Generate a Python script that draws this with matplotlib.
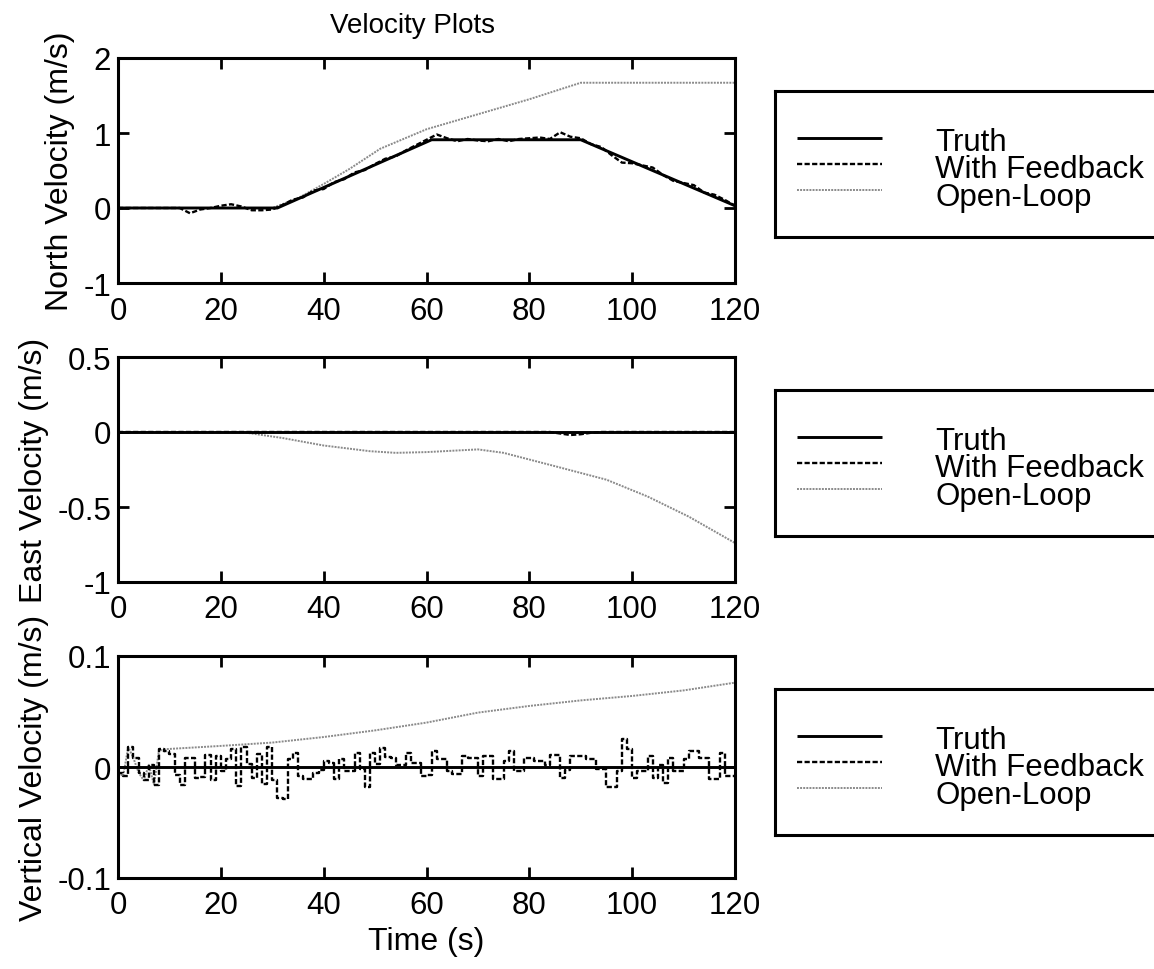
import numpy as np
import matplotlib
matplotlib.use("Agg")
import matplotlib.pyplot as plt
from matplotlib.lines import Line2D

plt.rcParams['font.family'] = ['Liberation Sans', 'DejaVu Sans']

# ---------------- data ----------------
# North: truth breakpoints
north_truth_t = [0, 31, 61, 90, 120]
north_truth_v = [0.0, 0.0, 0.91, 0.91, 0.03]
# North: open-loop breakpoints
north_open_t = [0, 30, 35, 40, 45, 51, 60, 70, 80, 90, 120]
north_open_v = [0.0, 0.0, 0.13, 0.32, 0.52, 0.79, 1.05, 1.25, 1.45, 1.67, 1.67]
# North: with-feedback deviation from truth, every 2 s (0..120)
fb_t2 = list(range(0, 121, 2))
north_fb_dev = [0, 0, 0, 0, 0, 0, 0, -0.07, -0.02, 0, 0.03, 0.05, 0.02, -0.03, -0.03, -0.02,
                0.01, 0.02, -0.01, 0.02, -0.02, 0.01, -0.01, 0.02, -0.01, 0.01, 0.02, -0.01, 0.01,
                0.02, 0.03, 0.07, 0.02, -0.02, 0.01, -0.01, -0.02, 0.01, -0.02, 0.01, 0.02, 0.03,
                0.01, 0.10, 0.04, 0.02, 0.0, 0.02, -0.03, -0.07, -0.02, 0.01, 0.04, 0.0, -0.02,
                0.01, 0.04, 0.0, 0.03, 0.02, 0.0]

# East
east_truth_t = [0, 120]
east_truth_v = [0.0, 0.0]
east_open_t = [0, 24, 32, 40, 49, 54, 60, 70, 75, 85, 95, 103, 111, 120]
east_open_v = [0.0, 0.0, -0.04, -0.09, -0.128, -0.139, -0.134, -0.116, -0.139, -0.228,
               -0.318, -0.43, -0.564, -0.74]
east_fb_v = [0] * 43 + [-0.01, -0.02, -0.015, -0.005] + [0] * 14

# Vertical
vert_truth_t = [0, 120]
vert_truth_v = [0.0, 0.0]
t1 = list(range(0, 121))
vert_fb_v = [-5, -8, 18, 8, -5, -12, 2, -16, 16, 14, 12, -7, -16, 8, 8, -10, -9, 11, -12, 10,
             -4, 7, 16, -17, 18, 3, -10, 12, -15, 18, -12, -28, -29, 7, 13, -8, -11, -11, -5, -3,
             5, 4, -11, 7, -4, -4, 13, -2, -18, 13, 3, 17, 9, 8, 2, 2, 13, 4, 4, -8,
             -7, 14, 7, 7, -4, -6, -6, 10, 8, 8, -8, 10, 10, -11, -11, 5, 14, -4, -4, 8,
             8, 5, 5, 2, 11, 11, -10, -3, 10, 10, 10, 7, 7, -2, -2, -18, -18, -4, 25, 16,
             -10, -4, -4, 10, -10, 2, -14, 8, -4, -4, 7, 14, 14, 8, 8, -11, -11, 13, -8, -8, -8]
vert_fb_v = [v / 1000.0 for v in vert_fb_v]
vert_open_t = [9, 20, 30, 40, 50, 60, 70, 80, 90, 100, 110, 120]
vert_open_v = [0.016, 0.019, 0.022, 0.027, 0.033, 0.040, 0.049, 0.055, 0.060, 0.064, 0.069, 0.076]

legend_labels = ["Truth", "With Feedback", "Open-Loop"]
xticks = [0, 20, 40, 60, 80, 100, 120]

# ---------------- figure ----------------
W, H = 1154, 970
fig = plt.figure(figsize=(W / 100, H / 100), dpi=100)

def fx(px):
    return px / W

def fy(py):
    return 1 - py / H

truth_kw = dict(color='black', lw=2.1, solid_capstyle='butt')
fb_kw = dict(color='black', lw=1.7, ls=(0, (2.2, 1.0)))
ol_kw = dict(color='#8a8a8a', lw=1.4, ls=(0, (1, 0.6)))

FS = 22.5
LFS = 23

def style_axes(ax, ylim, yticks, yticklabels):
    ax.set_xlim(0, 120)
    ax.set_ylim(*ylim)
    ax.set_xticks(xticks)
    ax.set_xticklabels([str(x) for x in xticks], fontsize=FS)
    ax.set_yticks(yticks)
    ax.set_yticklabels(yticklabels, fontsize=FS)
    ax.tick_params(direction='in', length=8, width=2, top=True, right=True)
    ax.tick_params(axis='y', pad=5)
    ax.tick_params(axis='x', pad=9)
    for s in ax.spines.values():
        s.set_linewidth(2.2)

axes_px = [(59, 284), (358, 583), (657, 879)]
axs = []
for top, bot in axes_px:
    ax = fig.add_axes([fx(118), fy(bot), fx(735) - fx(118), fy(top) - fy(bot)])
    axs.append(ax)

# North
ax = axs[0]
tt = np.array(fb_t2)
north_truth_at = np.interp(tt, north_truth_t, north_truth_v)
ax.plot(north_open_t, north_open_v, **ol_kw)
ax.plot(tt, north_truth_at + np.array(north_fb_dev), **fb_kw)
ax.plot(north_truth_t, north_truth_v, **truth_kw)
style_axes(ax, (-1, 2), [-1, 0, 1, 2], ['-1', '0', '1', '2'])
ax.set_ylabel('North Velocity (m/s)', fontsize=LFS, labelpad=6)

# East
ax = axs[1]
ax.plot(east_open_t, east_open_v, **ol_kw)
ax.plot(fb_t2, east_fb_v, **fb_kw)
ax.plot(east_truth_t, east_truth_v, **truth_kw)
style_axes(ax, (-1, 0.5), [-1, -0.5, 0, 0.5], ['-1', '-0.5', '0', '0.5'])
ax.set_ylabel('East Velocity (m/s)', fontsize=LFS, labelpad=6)

# Vertical
ax = axs[2]
ax.plot(t1[:10] + vert_open_t, vert_fb_v[:10] + vert_open_v, **ol_kw)
ax.plot(t1, vert_fb_v, drawstyle='steps-post', **fb_kw)
ax.plot(vert_truth_t, vert_truth_v, **truth_kw)
style_axes(ax, (-0.1, 0.1), [-0.1, 0, 0.1], ['-0.1', '0', '0.1'])
ax.set_ylabel('Vertical Velocity (m/s)', fontsize=LFS, labelpad=6)
ax.set_xlabel('Time (s)', fontsize=LFS, labelpad=4)

fig.text(fx(413), fy(33), 'Velocity Plots', fontsize=20, ha='center', va='baseline')

# Legends drawn as boxes (labels as one multi-line text block)
ROW = 26.0
ASC = 0.716 * FS * 100 / 72.0   # cap height of a text line in px
LINE_BASE = 29.3                # matplotlib line pitch at linespacing 1.0 (px)
leg_boxes = [(775, 92, 1170, 238), (775, 391, 1170, 537), (775, 690, 1170, 836)]
for (l, t, r, b) in leg_boxes:
    lax = fig.add_axes([fx(l), fy(b), fx(r) - fx(l), fy(t) - fy(b)])
    lax.set_xlim(l, r)
    lax.set_ylim(b, t)
    lax.set_xticks([])
    lax.set_yticks([])
    for s in lax.spines.values():
        s.set_linewidth(2.2)
    mid = (t + b) / 2
    rows = [mid - ROW, mid, mid + ROW]
    styles = [truth_kw, fb_kw, ol_kw]
    for yy, st in zip(rows, styles):
        lax.add_line(Line2D([797, 882], [yy, yy], **st))
    top_y = rows[0] - 0.5 * ASC
    lax.text(935, top_y, "\n".join(legend_labels), fontsize=FS, va='top', ha='left',
             linespacing=ROW / LINE_BASE)

fig.savefig('out.png', dpi=100)
